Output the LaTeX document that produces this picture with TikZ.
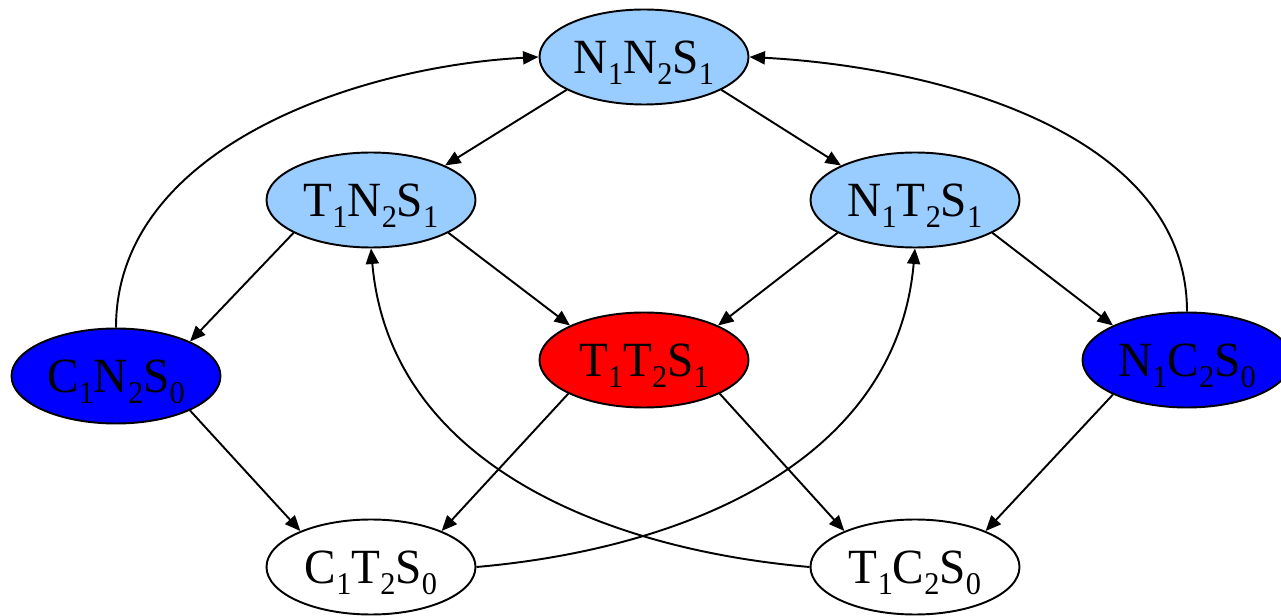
\documentclass[tikz,border=0pt]{standalone}
\usepackage{fontspec}
\setmainfont{Liberation Serif}[FakeStretch=0.96]
\usepackage{xcolor}
\usepackage{tikz}
\usetikzlibrary{shapes.geometric, arrows.meta}
\definecolor{skyfill}{HTML}{99CCFF}
\newcommand{\low}[1]{\raisebox{-6.5pt}{\fontsize{18}{18}\selectfont #1}}
\tikzset{stategraph/.style={
    basestate/.style={ellipse, draw=black, line width=1.1pt, minimum width=4.18cm, minimum height=1.9cm, inner sep=0pt, text depth=0pt, font=\fontsize{28}{30}\selectfont},
    sky/.style={basestate, fill=skyfill},
    deep/.style={basestate, fill=blue},
    hot/.style={basestate, fill=red},
    plain/.style={basestate, fill=white},
    link/.style={line width=1.1pt, -{Triangle[length=0.31cm, width=0.26cm]}},
}}

\begin{document}
\begin{tikzpicture}[stategraph]
    \useasboundingbox (0,0) rectangle (25.62,12.32);
    \node[sky] (n1n2s1) at (12.88,11.18) {N\low{1}N\low{2}S\low{1}};
    \node[sky] (t1n2s1) at (7.42,8.32) {T\low{1}N\low{2}S\low{1}};
    \node[sky] (n1t2s1) at (18.30,8.32) {N\low{1}T\low{2}S\low{1}};
    \node[deep] (c1n2s0) at (2.32,4.80) {C\low{1}N\low{2}S\low{0}};
    \node[hot] (t1t2s1) at (12.88,5.12) {T\low{1}T\low{2}S\low{1}};
    \node[deep] (n1c2s0) at (23.74,5.12) {N\low{1}C\low{2}S\low{0}};
    \node[plain] (c1t2s0) at (7.42,0.98) {C\low{1}T\low{2}S\low{0}};
    \node[plain] (t1c2s0) at (18.30,0.98) {T\low{1}C\low{2}S\low{0}};

    % straight moves
    \draw[link] (n1n2s1.203) -- (t1n2s1.25);
    \draw[link] (n1n2s1.-23) -- (n1t2s1.155);
    \draw[link] (t1n2s1.203) -- (c1n2s0.25);
    \draw[link] (t1n2s1.-23) -- (t1t2s1.155);
    \draw[link] (n1t2s1.203) -- (t1t2s1.25);
    \draw[link] (n1t2s1.-23) -- (n1c2s0.155);
    \draw[link] (c1n2s0.-25) -- (c1t2s0.153);
    \draw[link] (t1t2s1.204) -- (c1t2s0.27);
    \draw[link] (t1t2s1.-24) -- (t1c2s0.153);
    \draw[link] (n1c2s0.205) -- (t1c2s0.27);
    % long arcs
    \draw[link] (c1n2s0.north) to[out=90, in=183, looseness=0.92] (n1n2s1.west);
    \draw[link] (n1c2s0.north) to[out=90, in=-3, looseness=0.92] (n1n2s1.east);
    \draw[link] (c1t2s0.east) to[out=5, in=265] (n1t2s1.south);
    \draw[link] (t1c2s0.west) to[out=175, in=275] (t1n2s1.south);
\end{tikzpicture}
\end{document}
